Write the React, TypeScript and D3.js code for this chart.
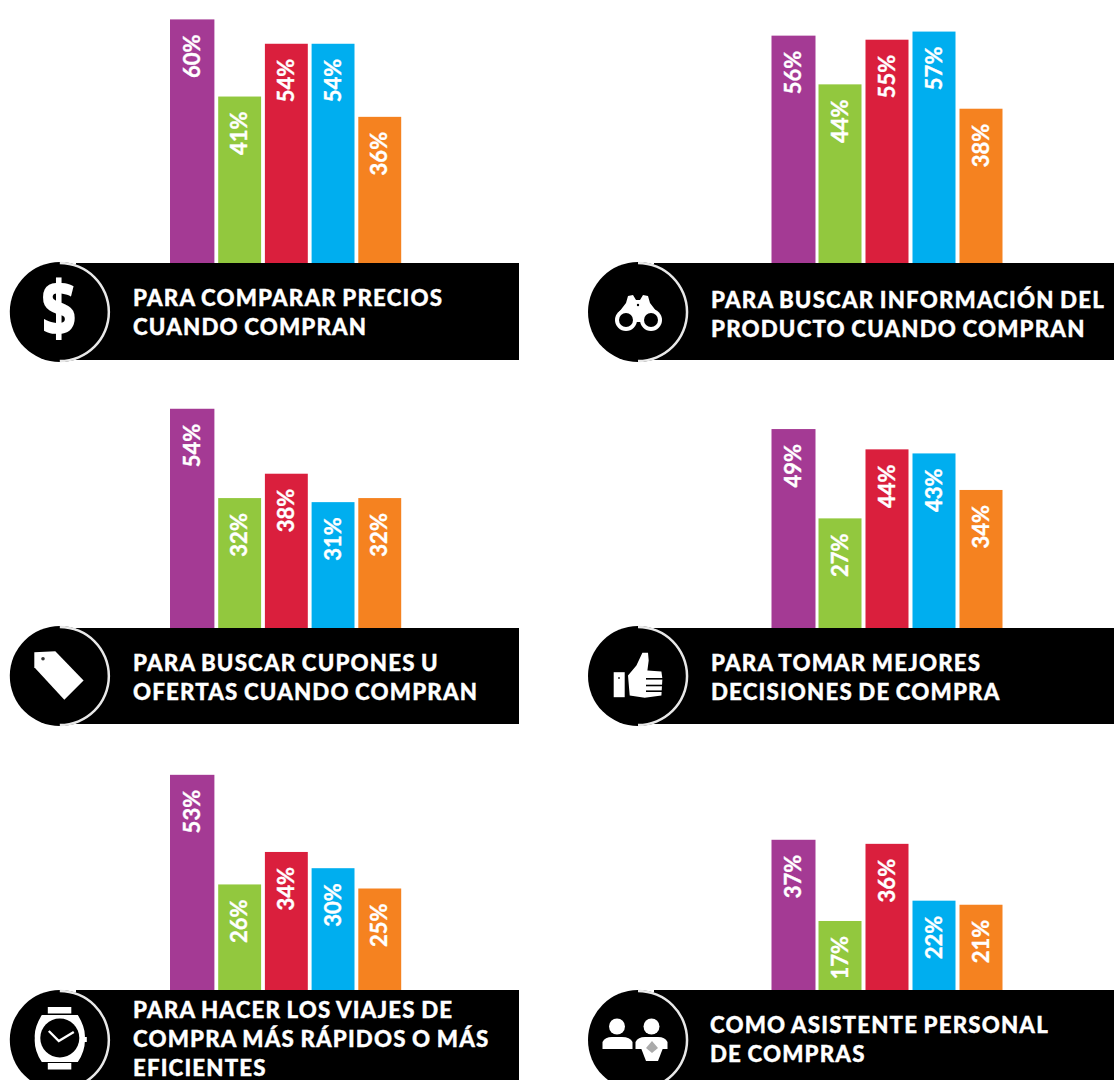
import React from "react";
import * as d3 from "d3";

// Share of shoppers per use, one value per shopper group, in percent.
const compararPrecios = [60, 41, 54, 54, 36];
const buscarInformacion = [56, 44, 55, 57, 38];
const buscarCupones = [54, 32, 38, 31, 32];
const mejoresDecisiones = [49, 27, 44, 43, 34];
const viajesRapidos = [53, 26, 34, 30, 25];
const asistentePersonal = [37, 17, 36, 22, 21];

const groupKeys = ["g1", "g2", "g3", "g4", "g5"];
const groupColors = ["#a43a94", "#92c83e", "#da1f3d", "#00aeef", "#f58220"];

const captionPrecios = ["PARA COMPARAR PRECIOS", "CUANDO COMPRAN"];
const captionInformacion = ["PARA BUSCAR INFORMACIÓN DEL", "PRODUCTO CUANDO COMPRAN"];
const captionCupones = ["PARA BUSCAR CUPONES U", "OFERTAS CUANDO COMPRAN"];
const captionDecisiones = ["PARA TOMAR MEJORES", "DECISIONES DE COMPRA"];
const captionViajes = ["PARA HACER LOS VIAJES DE", "COMPRA MÁS RÁPIDOS O MÁS", "EFICIENTES"];
const captionAsistente = ["COMO ASISTENTE PERSONAL", "DE COMPRAS"];

const WIDTH = 1114;
const HEIGHT = 1080;
const PX_PER_POINT = 4.06;
const RADIUS = 50;

type IconKind = "dollar" | "binoculars" | "tag" | "thumb" | "watch" | "people";

const columns = {
  left: { barStart: 171.5, barEnd: 401.2, step: 46.7, growLeft: 1.5, growRight: 0, cx: 59.8, bandStart: 76, bandEnd: 519 },
  right: { barStart: 771.5, barEnd: 1002.5, step: 47, growLeft: 0, growRight: 1, cx: 638, bandStart: 654, bandEnd: 1114 },
};

const panels = [
  { col: columns.left, values: compararPrecios, caption: captionPrecios, icon: "dollar", base: 263, bottom: 360, cy: 312, textX: 133, firstLine: 306 },
  { col: columns.right, values: buscarInformacion, caption: captionInformacion, icon: "binoculars", base: 263, bottom: 360, cy: 312, textX: 711, firstLine: 308 },
  { col: columns.left, values: buscarCupones, caption: captionCupones, icon: "tag", base: 628, bottom: 724, cy: 676, textX: 133, firstLine: 671 },
  { col: columns.right, values: mejoresDecisiones, caption: captionDecisiones, icon: "thumb", base: 628, bottom: 724, cy: 676, textX: 711, firstLine: 671 },
  { col: columns.left, values: viajesRapidos, caption: captionViajes, icon: "watch", base: 990, bottom: 1090, cy: 1040, textX: 133, firstLine: 1017.5 },
  { col: columns.right, values: asistentePersonal, caption: captionAsistente, icon: "people", base: 990, bottom: 1090, cy: 1040, textX: 710, firstLine: 1033 },
];

const ringArc = d3.arc()({
  innerRadius: RADIUS - 2.2,
  outerRadius: RADIUS + 0.3,
  startAngle: 0,
  endAngle: Math.PI,
}) as string;

function Icon({ kind }: { kind: IconKind }) {
  switch (kind) {
    case "dollar":
      return (
        <text
          transform="translate(-1,24) scale(0.88,1.12)"
          textAnchor="middle"
          fill="#fff"
          fontFamily="'Open Sans'"
          fontWeight={800}
          fontSize={68}
        >
          $
        </text>
      );
    case "binoculars":
      return (
        <g fill="#fff">
          <path d="M-22,4 L-12,-9 L-10,-16 L-5,-17 L-2,-12 L2,-12 L5,-17 L10,-16 L12,-9 L22,4 L14,10 L-14,10 Z" />
          <circle cx={-12} cy={8} r={11} />
          <circle cx={13} cy={8} r={11} />
          <circle cx={-12} cy={8} r={7} fill="#000" />
          <circle cx={13} cy={8} r={7} fill="#000" />
          <circle cx={0} cy={-7} r={1.2} fill="#000" />
        </g>
      );
    case "tag":
      return (
        <g>
          <path d="M-25.5,-23.8 L-4.5,-24.8 L23.8,4.5 L4.5,23.8 L-25.5,-8.8 Z" fill="#fff" />
          <circle cx={-16.8} cy={-17.2} r={1.8} fill="#333" />
        </g>
      );
    case "thumb":
      return (
        <g fill="#fff">
          <rect x={-24.3} y={-3.8} width={11} height={25} />
          <circle cx={-19} cy={2} r={1} fill="#333" />
          <path d="M-10,-0.5 L-1.6,-10.5 L4.4,-23.2 L10,-23.2 L10.7,-15.5 L9.4,-5.5 L23.4,-4.5 L24.4,2.8 L23.4,19.5 L6.7,21.8 L-8.3,19.5 Z" />
          <g stroke="#000" strokeWidth={1.6}>
            <line x1={8} x2={25} y1={2.8} y2={2.8} />
            <line x1={8} x2={25} y1={9.5} y2={9.5} />
            <line x1={8} x2={25} y1={15.2} y2={15.2} />
          </g>
        </g>
      );
    case "watch":
      return (
        <g fill="#fff">
          <rect x={-12} y={-33} width={23.5} height={6.5} />
          <rect x={-12} y={23} width={23.5} height={6.5} />
          <path d="M-18,-25 L18,-25 Q26,-12 25,-2 Q26,10 18,22 L-18,22 Q-26,10 -25,-2 Q-26,-12 -18,-25 Z" />
          <rect x={24} y={-3} width={3} height={5} />
          <circle cx={0} cy={-2} r={19.5} fill="#000" />
          <path d="M-11,-9 L-1,1 L14,-8" fill="none" stroke="#fff" strokeWidth={2.4} />
        </g>
      );
    case "people":
      return (
        <g fill="#fff">
          <circle cx={-21} cy={-13.5} r={8} />
          <path d="M-35.5,9 L-35.5,2 Q-33,-3 -26,-3 L-16,-3 Q-8,-3 -5.5,2 L-5.5,9 Z" />
          <circle cx={13.5} cy={-13.5} r={8} />
          <path d="M-2.5,9 L-2.5,2 Q0,-3 7,-3 L20,-3 Q27,-3 29.5,2 L29.5,9 Z" />
          <path d="M3,8 L25,8 L20,21 L8,21 Z" />
          <path d="M14,1 L20,8 L14,13 L8,8 Z" fill="#aaa" />
        </g>
      );
  }
}

function Panel({ panel }: { panel: (typeof panels)[number] }) {
  const { col, values, caption, icon, base, bottom, cy, textX, firstLine } = panel;
  const x = d3
    .scaleBand<string>()
    .domain(groupKeys)
    .range([col.barStart, col.barEnd])
    .paddingInner(1 - (col.barEnd - col.barStart - 4 * col.step) / col.step);
  const y = d3.scaleLinear().domain([0, 100]).range([base, base - 100 * PX_PER_POINT]);
  const color = d3.scaleOrdinal<string, string>().domain(groupKeys).range(groupColors);

  return (
    <g>
      {values.map((v, i) => {
        const key = groupKeys[i];
        const bx = x(key) as number;
        // the first group's column sits slightly wider than the others
        const growL = i === 0 ? col.growLeft : 0;
        const growR = i === 0 ? col.growRight : 0;
        return (
          <g key={key}>
            <rect
              x={bx - growL}
              y={y(v)}
              width={x.bandwidth() + growL + growR}
              height={base - y(v)}
              fill={color(key)}
            />
            <text
              transform={`translate(${bx + x.bandwidth() / 2 + 7.5},${y(v) + 15}) rotate(-90)`}
              textAnchor="end"
              fill="#fff"
              stroke="#fff"
              strokeWidth={0.35}
              fontFamily="Lato"
              fontWeight={700}
              fontSize={22}
            >
              {v}%
            </text>
          </g>
        );
      })}
      <rect x={col.bandStart} y={base} width={col.bandEnd - col.bandStart} height={bottom - base} fill="#000" />
      <g transform={`translate(${col.cx},${cy})`}>
        <circle r={RADIUS} fill="#000" />
        <path d={ringArc} fill="#e8e8e8" />
        <Icon kind={icon as IconKind} />
      </g>
      <text
        fill="#fff"
        stroke="#fff"
        strokeWidth={0.35}
        fontFamily="Lato"
        fontWeight={900}
        fontSize={22.3}
        letterSpacing={1.15}
        wordSpacing={-1}
      >
        {caption.map((line, i) => (
          <tspan key={line} x={textX} y={firstLine + i * 29}>
            {line}
          </tspan>
        ))}
      </text>
    </g>
  );
}

export default function App() {
  return (
    <svg
      width={WIDTH}
      height={HEIGHT}
      viewBox={`0 0 ${WIDTH} ${HEIGHT}`}
      style={{ position: "absolute", left: 0, top: 0, background: "#fff" }}
    >
      {panels.map((p) => (
        <Panel key={p.icon} panel={p} />
      ))}
    </svg>
  );
}
